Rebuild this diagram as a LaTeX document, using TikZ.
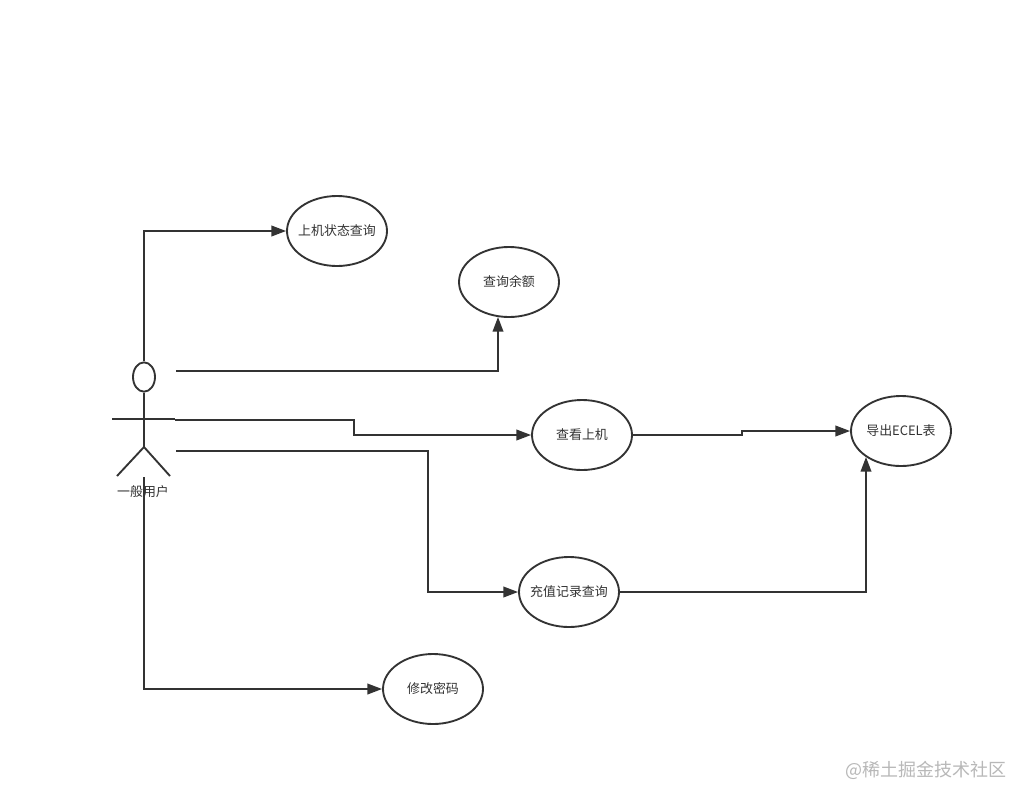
\documentclass[tikz,border=0pt]{standalone}
\usepackage{fontspec}
\setmainfont{Noto Sans CJK SC}
\usetikzlibrary{arrows.meta,shapes.geometric}
\definecolor{ink}{HTML}{333333}
\tikzset{
  usecase/.style={draw=ink,line width=1.4pt,ellipse,inner sep=0pt,minimum width=75pt,minimum height=52.5pt,font=\fontsize{9.7pt}{11pt}\selectfont,text=ink},
  conn/.style={draw=ink,line width=1.2pt,-{Triangle[length=11pt,width=8pt,fill=ink]}},
  stick/.style={draw=ink,line width=1.4pt},
}
\newcommand{\uc}[1]{\raisebox{-1.3pt}{\makebox[0pt]{#1}}}
\begin{document}
\begin{tikzpicture}[x=0.75pt,y=-0.75pt]
\useasboundingbox (0,0) rectangle (1013,786);
\fill[white] (0,0) rectangle (1013,786);
% use cases
\node[usecase] (status) at (337,231) {\uc{上机状态查询}};
\node[usecase] (balance) at (509,282) {\uc{查询余额}};
\node[usecase] (view) at (582,435) {\uc{查看上机}};
\node[usecase] (export) at (901,431) {\uc{导出ECEL表}};
\node[usecase] (recharge) at (569,592) {\uc{充值记录查询}};
\node[usecase] (passwd) at (433,689) {\uc{修改密码}};
% actor
\node[draw=ink,line width=1.4pt,ellipse,inner sep=0pt,minimum width=16.5pt,minimum height=22pt] (head) at (144,377) {};
\coordinate (crotch) at (144,447);
\coordinate (armL) at (112,419);
\coordinate (armR) at (175,419);
\coordinate (footL) at (117,476);
\coordinate (footR) at (170,476);
\draw[stick] (head.south) -- (crotch);
\draw[stick] (armL) -- (armR);
\draw[stick] (footL) -- (crotch) -- (footR);
\node[font=\fontsize{9.7pt}{11pt}\selectfont,text=ink,inner sep=0pt] (actor) at (143,492) {一般用户};
% connector free ends at the actor and the points where lines meet the ellipses
\coordinate (a2) at (176,371);
\coordinate (a3) at (175,420);
\coordinate (a4) at (176,451);
\coordinate (a5) at (144,477);
\coordinate (balanceIn) at (498,317);
\coordinate (exportIn) at (866,457);
% connectors
\draw[conn] (head.north) |- (status.west);
\draw[conn] (a2) -| (balanceIn);
\draw[conn] (a3) -- (354,420) -- (354,435) -- (view.west);
\draw[conn] (a4) -- (428,451) -- (428,592) -- (recharge.west);
\draw[conn] (a5) |- (passwd.west);
\draw[conn] (view.east) -- (742,435) -- (742,431) -- (export.west);
\draw[conn] (recharge.east) -| (exportIn);
% watermark
\node[anchor=east,inner sep=0pt,text=black!28,font=\fontsize{13.5pt}{16pt}\selectfont] (mark) at (1007,770) {@稀土掘金技术社区};
\end{tikzpicture}
\end{document}
